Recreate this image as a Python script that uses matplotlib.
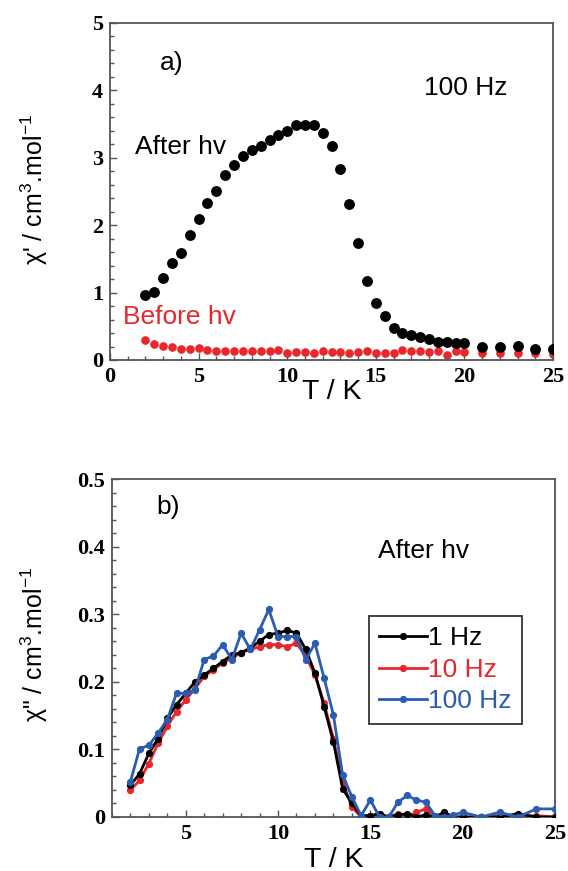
import matplotlib
matplotlib.use("Agg")
import matplotlib.pyplot as plt
from matplotlib.ticker import MultipleLocator

plt.rcParams["mathtext.fontset"] = "custom"
plt.rcParams["mathtext.rm"] = "Liberation Sans"
plt.rcParams["mathtext.it"] = "Liberation Sans"

# --- panel a: in-phase susceptibility at 100 Hz ---
t_after = [2, 2.5, 3, 3.5, 4, 4.5, 5, 5.5, 6, 6.5, 7, 7.5, 8, 8.5, 9, 9.5, 10,
           10.5, 11, 11.5, 12, 12.5, 13, 13.5, 14, 14.5, 15, 15.5, 16, 16.5, 17,
           17.5, 18, 18.5, 19, 19.5, 20, 21, 22, 23, 24, 25]
chi1_after = [0.96, 1.01, 1.22, 1.44, 1.58, 1.86, 2.09, 2.33, 2.51, 2.74, 2.89,
              3.02, 3.11, 3.18, 3.27, 3.34, 3.40, 3.49, 3.48, 3.48, 3.37, 3.18,
              2.83, 2.31, 1.74, 1.17, 0.85, 0.66, 0.47, 0.40, 0.37, 0.34, 0.31,
              0.27, 0.26, 0.25, 0.25, 0.20, 0.20, 0.21, 0.17, 0.17]

t_before = [2, 2.5, 3, 3.5, 4, 4.5, 5, 5.5, 6, 6.5, 7, 7.5, 8, 8.5, 9, 9.5, 10,
            10.5, 11, 11.5, 12, 12.5, 13, 13.5, 14, 14.5, 15, 15.5, 16, 16.5, 17,
            17.5, 18, 18.5, 19, 19.5, 20, 21, 22, 23, 24, 25]
chi1_before = [0.30, 0.23, 0.21, 0.20, 0.16, 0.16, 0.18, 0.15, 0.14, 0.14, 0.14,
               0.14, 0.14, 0.13, 0.13, 0.15, 0.10, 0.12, 0.12, 0.11, 0.13, 0.12,
               0.12, 0.11, 0.12, 0.13, 0.11, 0.10, 0.10, 0.15, 0.13, 0.13, 0.12,
               0.13, 0.07, 0.13, 0.12, 0.10, 0.11, 0.10, 0.10, 0.09]

# --- panel b: out-of-phase susceptibility after irradiation ---
t_ac = [2, 2.5, 3, 3.5, 4, 4.5, 5, 5.5, 6, 6.5, 7, 7.5, 8, 8.5, 9, 9.5, 10,
        10.5, 11, 11.5, 12, 12.5, 13, 13.5, 14, 14.5, 15, 15.5, 16, 16.5, 17,
        17.5, 18, 18.5, 19, 19.5, 20, 21, 22, 23, 24, 25]
chi2_1hz = [0.047, 0.064, 0.094, 0.116, 0.146, 0.166, 0.183, 0.200, 0.210, 0.220,
            0.230, 0.240, 0.243, 0.250, 0.260, 0.270, 0.272, 0.276, 0.272, 0.248,
            0.213, 0.163, 0.111, 0.042, 0.020, 0.002, 0.002, 0.005, 0.000, 0.003,
            0.005, 0.000, 0.003, 0.000, 0.007, 0.000, 0.000, 0.000, 0.000, 0.005,
            0.000, 0.000]
chi2_10hz = [0.040, 0.054, 0.079, 0.109, 0.134, 0.156, 0.173, 0.190, 0.208, 0.218,
             0.228, 0.235, 0.243, 0.248, 0.252, 0.255, 0.255, 0.252, 0.257, 0.238,
             0.210, 0.168, 0.116, 0.052, 0.015, 0.000, 0.002, 0.000, 0.000, 0.005,
             0.000, 0.007, 0.012, 0.002, 0.000, 0.000, 0.000, 0.000, 0.002, 0.000,
             0.002, 0.000]
chi2_100hz = [0.052, 0.101, 0.106, 0.124, 0.144, 0.183, 0.183, 0.188, 0.233, 0.238,
              0.255, 0.233, 0.272, 0.248, 0.277, 0.307, 0.267, 0.267, 0.267, 0.233,
              0.257, 0.205, 0.151, 0.062, 0.030, 0.002, 0.025, 0.000, 0.000, 0.022,
              0.032, 0.025, 0.022, 0.002, 0.000, 0.003, 0.007, 0.000, 0.007, 0.000,
              0.012, 0.012]

SERIF = "Liberation Serif"
SANS = "Liberation Sans"
RED = "#e8262b"
BLUE = "#2a5db0"
FRAME = "#555555"
LABEL_SIZE = 19


def style_axes(ax, xmin, xmax, ymax, ymajor, yminor, yfmt, xlabel_y):
    ax.set_xlim(xmin, xmax)
    ax.set_ylim(0, ymax)
    ax.xaxis.set_major_locator(MultipleLocator(5))
    ax.xaxis.set_minor_locator(MultipleLocator(1))
    ax.yaxis.set_major_locator(MultipleLocator(ymajor))
    ax.yaxis.set_minor_locator(MultipleLocator(yminor))
    ax.tick_params(which="both", direction="in", top=False, right=False,
                   color=FRAME, width=1.0)
    ax.tick_params(which="major", length=5, pad=5)
    ax.tick_params(which="minor", length=3)
    for spine in ax.spines.values():
        spine.set_color(FRAME)
        spine.set_linewidth(1.3)
    ax.yaxis.set_major_formatter(yfmt)
    for lbl in ax.get_xticklabels() + ax.get_yticklabels():
        lbl.set_fontfamily(SERIF)
        lbl.set_fontweight("bold")
        lbl.set_fontsize(16)
    # axis title sits tight under the tick numbers
    ax.text(0.5, xlabel_y, "T / K", transform=ax.transAxes, ha="center",
            va="top", fontfamily=SANS, fontsize=20.5)


fig = plt.figure(figsize=(5.68, 8.71), dpi=100)

ax1 = fig.add_axes([0.1937, 0.5867, 0.780, 0.3869])
ax1.plot(t_after, chi1_after, "o", color="black", markersize=6.8, zorder=3)
ax1.plot(t_before, chi1_before, "o", color=RED, markersize=5.2, zorder=2)
style_axes(ax1, 0, 25, 5, 1, 0.2,
           lambda v, _: "0" if v == 0 else f"{v:g}", -0.055)
fig.text(0.060, 0.783, "χ' / cm$^{3}$.mol$^{-1}$", rotation=90, ha="center",
         va="center", fontfamily=SANS, fontsize=18)
ax1.text(2.8, 4.4, "a)", fontfamily=SANS, fontsize=LABEL_SIZE, va="center")
ax1.text(17.7, 4.03, "100 Hz", fontfamily=SANS, fontsize=LABEL_SIZE,
         va="center")
ax1.text(1.4, 3.16, "After hv", fontfamily=SANS, fontsize=LABEL_SIZE,
         va="center")
ax1.text(0.75, 0.64, "Before hv", fontfamily=SANS, fontsize=LABEL_SIZE,
         va="center", color=RED)

ax2 = fig.add_axes([0.197, 0.062, 0.780, 0.388])
ax2.plot(t_ac, chi2_1hz, "-o", color="black", lw=2, markersize=4.2,
         label="1 Hz", zorder=3)
ax2.plot(t_ac, chi2_10hz, "-o", color=RED, lw=2, markersize=4.2,
         label="10 Hz", zorder=2)
ax2.plot(t_ac, chi2_100hz, "-o", color=BLUE, lw=2, markersize=4.2,
         label="100 Hz", zorder=4)
style_axes(ax2, 1, 25, 0.5, 0.1, 0.02,
           lambda v, _: "0" if abs(v) < 1e-9 else f"{v:.1f}", -0.088)
fig.text(0.060, 0.260, 'χ" / cm$^{3}$.mol$^{-1}$', rotation=90, ha="center",
         va="center", fontfamily=SANS, fontsize=18)
ax2.text(3.4, 0.458, "b)", fontfamily=SANS, fontsize=LABEL_SIZE, va="center")
ax2.text(15.4, 0.393, "After hv", fontfamily=SANS, fontsize=LABEL_SIZE,
         va="center")

leg = ax2.legend(loc="upper left", bbox_to_anchor=(0.58, 0.595), frameon=True,
                 fancybox=False, edgecolor="black", handlelength=1.8,
                 handletextpad=0.05, borderpad=0.4, borderaxespad=0,
                 labelspacing=0.28, prop={"family": SANS, "size": 19})
leg.get_frame().set_linewidth(1.3)
for text, col in zip(leg.get_texts(), ["black", RED, BLUE]):
    text.set_color(col)

fig.savefig("out.png", dpi=100)
